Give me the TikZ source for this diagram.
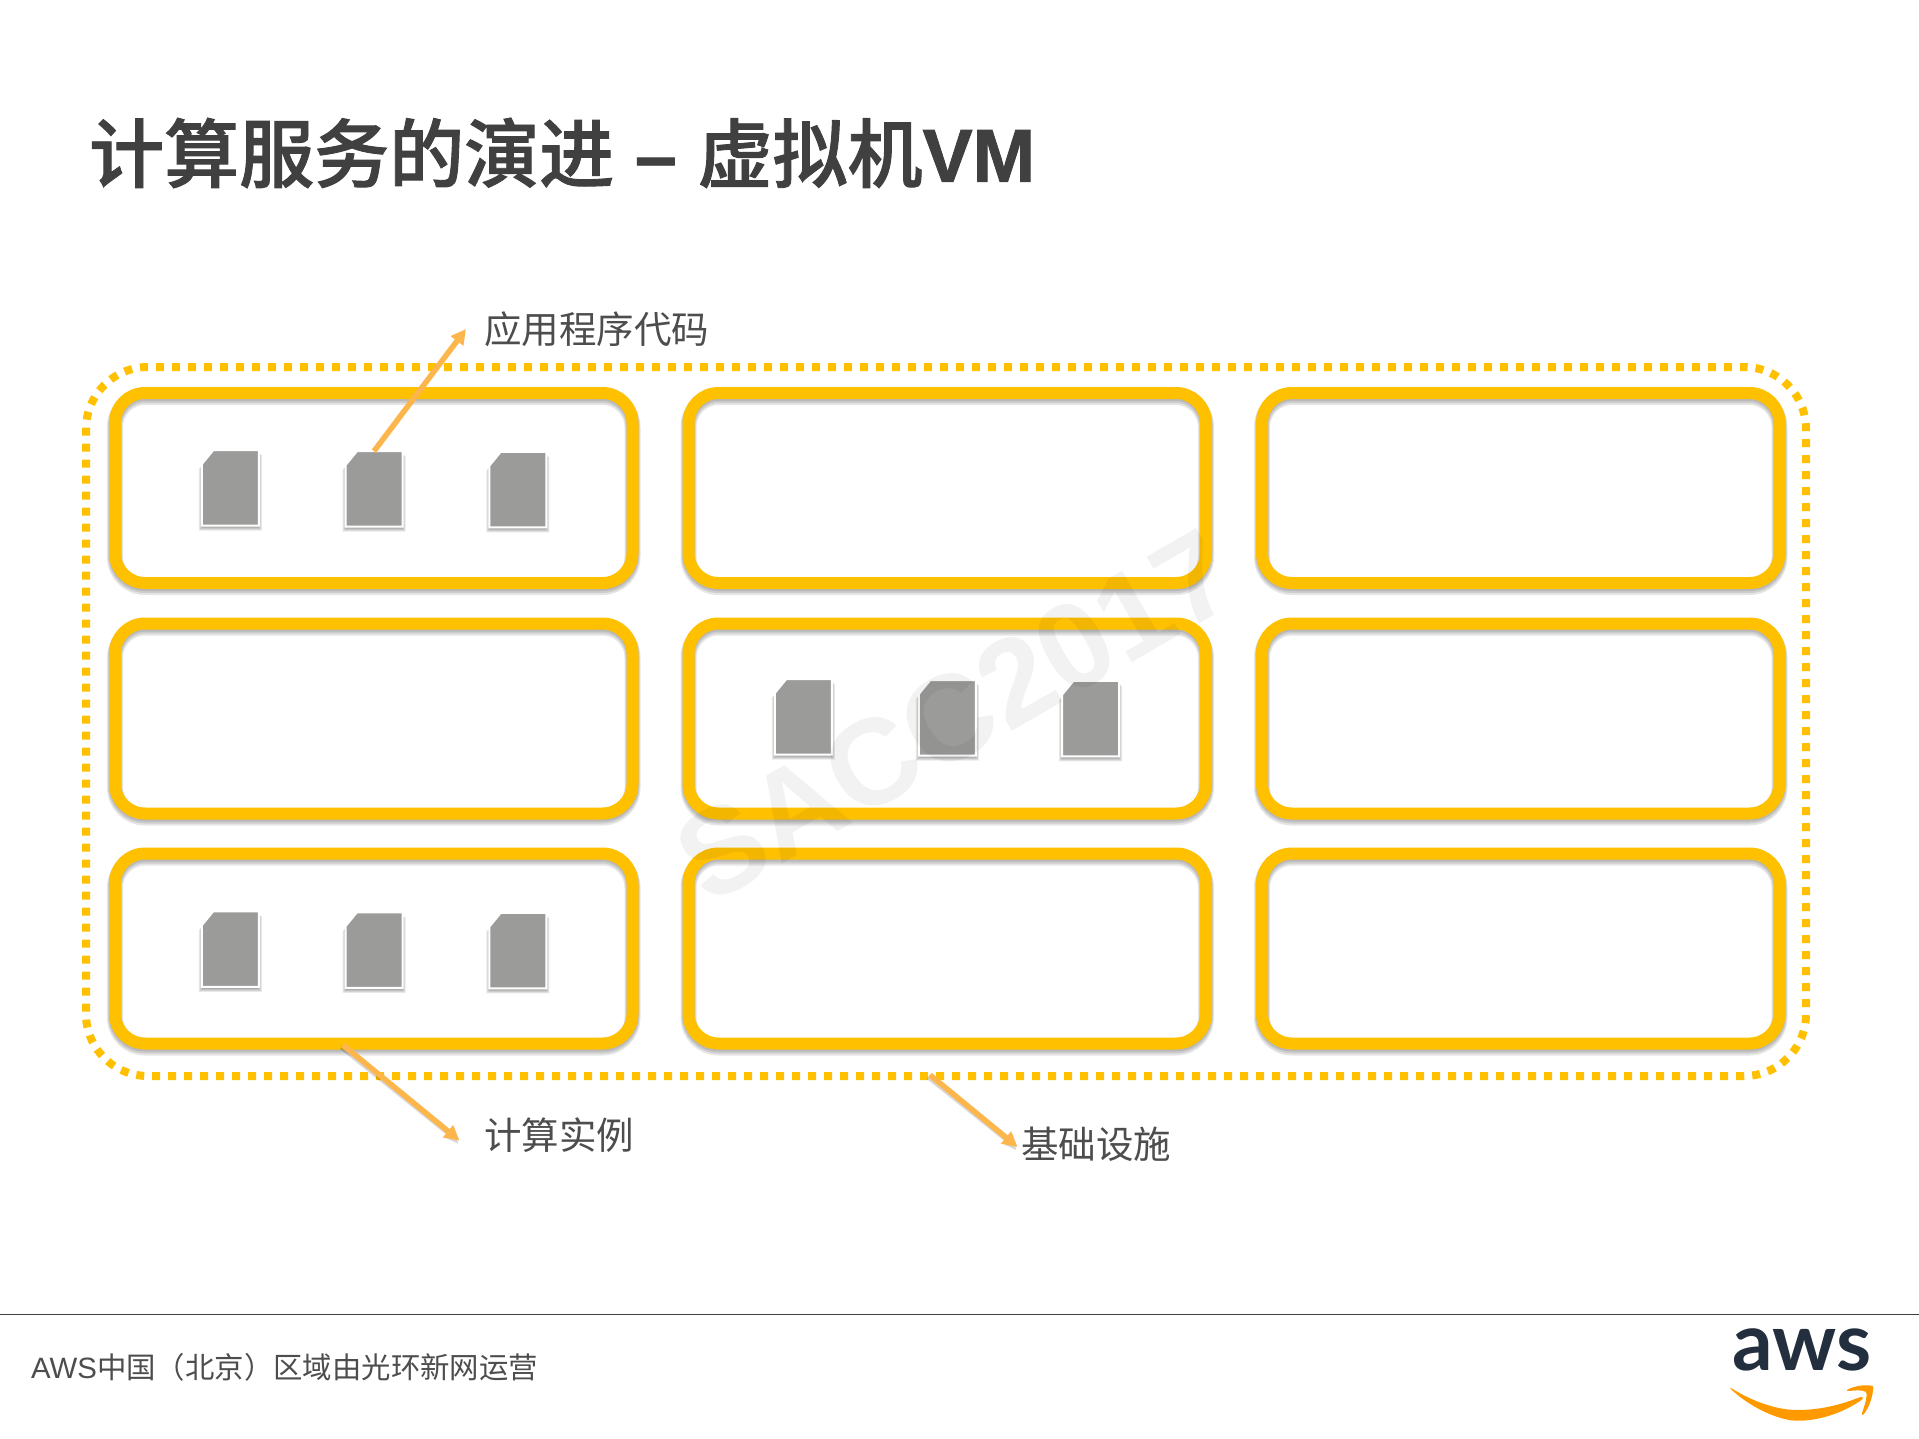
\documentclass[tikz,border=0pt]{standalone}
\usepackage{fontspec}
\setmainfont{Liberation Sans}
\newfontfamily\cjk{Noto Sans CJK SC}
\newfontfamily\cjkm[FakeBold=1.2]{Noto Sans CJK SC Medium}
\newfontfamily\titlelat[FakeBold=1.2]{Liberation Sans Bold}
\newfontfamily\logofont{Lato}
\usetikzlibrary{arrows.meta,calc}
\definecolor{amber}{HTML}{FFC000}
\definecolor{callout}{HTML}{FDB64C}
\definecolor{docgray}{HTML}{9B9B99}
\definecolor{inkgray}{HTML}{404040}
\definecolor{labelgray}{HTML}{4D4D4D}
\definecolor{awsnavy}{HTML}{232F3E}
\definecolor{awsorange}{HTML}{FF9900}
\tikzset{
  ibox/.style={rectangle,rounded corners=30pt,minimum width=517.5pt,minimum height=190pt,inner sep=0pt,outer sep=0pt,draw=amber,line width=12pt},
  iboxshadow/.style={rectangle,rounded corners=30pt,minimum width=517.5pt,minimum height=190pt,inner sep=0pt,outer sep=0pt,draw=black,draw opacity=.1},
  docbox/.style={rectangle,minimum width=57pt,minimum height=75.5pt,inner sep=0pt,outer sep=0pt},
  calloutline/.style={draw=callout,line width=5.5pt,-{Triangle[length=15pt,width=15pt]}},
  calloutshadow/.style={draw=black,draw opacity=.16,line width=5pt},
  calloutlabel/.style={text=labelgray,inner sep=0pt,outer sep=0pt,anchor=west,font=\fontsize{37.5}{40}\selectfont\cjk},
}
\newcommand{\instancebox}[3]{%
  \foreach \w/\dy in {12/2,14/3,16/4}{\node[iboxshadow,line width=\w pt] at (#2,#3+\dy) {};}
  \node[ibox] (#1) at (#2,#3) {};}
\newcommand{\codefile}[3]{%
  \node[docbox] (#1) at (#2,#3) {};
  \foreach \s in {2,3,4,5}{
    \fill[black,opacity=.09] ($(#1.north west)+(11.5,\s)$) -- ($(#1.north east)+(\s-2,\s)$) -- ($(#1.south east)+(\s-2,\s)$) -- ($(#1.south west)+(2-\s,\s)$) -- ($(#1.north west)+(2-\s,14+\s)$) -- cycle;}
  \draw[white,line width=2pt,fill=docgray,line join=miter]
    ($(#1.north west)+(11.5,0)$) -- (#1.north east) -- (#1.south east) -- (#1.south west) -- ($(#1.north west)+(0,14)$) -- cycle;}
\begin{document}
\begin{tikzpicture}[x=1pt,y=-1pt]
\useasboundingbox (0,0) rectangle (1919,1439);
\fill[white] (0,0) rectangle (1919,1439);
% title
\node[anchor=west,inner sep=0pt,text=inkgray,font=\fontsize{75}{80}\selectfont] (title) at (89,153)
  {{\cjkm 计算服务的演进} {\titlelat –} {\cjkm 虚拟机}{\titlelat VM}};
% infrastructure
\node[rectangle,rounded corners=62pt,minimum width=1720pt,minimum height=709pt,inner sep=0pt,outer sep=0pt,draw=amber,line width=8pt,dash pattern=on 8pt off 8pt,dash phase=4pt] (infra) at (946,721.5) {};
% instances
\instancebox{b11}{373.75}{488}
\instancebox{b12}{947.25}{488}
\instancebox{b13}{1520.75}{488}
\instancebox{b21}{373.75}{718.5}
\instancebox{b22}{947.25}{718.5}
\instancebox{b23}{1520.75}{718.5}
\instancebox{b31}{373.75}{948.5}
\instancebox{b32}{947.25}{948.5}
\instancebox{b33}{1520.75}{948.5}
% code files
\codefile{d1}{230.3}{487.9}
\codefile{d2}{374}{488.9}
\codefile{d3}{517.8}{489.5}
\codefile{d4}{803.3}{716.8}
\codefile{d5}{947.3}{717.8}
\codefile{d6}{1090.5}{718.5}
\codefile{d7}{230.3}{949}
\codefile{d8}{374}{950}
\codefile{d9}{517.8}{950.5}
% labels
\node[calloutlabel] (lcode) at (484,329) {应用程序代码};
\node[calloutlabel] (linst) at (484,1135) {计算实例};
\node[calloutlabel] (linfra) at (1021,1144) {基础设施};
% connectors
\coordinate (t1) at (466,329);
\coordinate (s2) at (343,1045);
\coordinate (t2) at (459.6,1140.7);
\coordinate (s3) at (930,1075);
\coordinate (t3) at (1017.6,1147);
\draw[calloutshadow] ($(s2)+(-1.5,2)$) -- ($(t2)+(-8,-5)$);
\draw[calloutshadow] ($(s3)+(-1.5,2)$) -- ($(t3)+(-8,-5)$);
\path[fill=black,opacity=.16] ($(t2)+(-1.5,3)$) -- ($(t2)+(-14,-3)$) -- ($(t2)+(-5,-13)$) -- cycle;
\path[fill=black,opacity=.16] ($(t3)+(-1.5,3)$) -- ($(t3)+(-14,-3)$) -- ($(t3)+(-5,-13)$) -- cycle;
\draw[calloutline] (d2.north) -- (t1);
\draw[calloutline] (s2) -- (t2);
\draw[calloutline] (s3) -- (t3);
% footer
\coordinate (rulea) at (0,1314);
\coordinate (ruleb) at (1919,1314);
\draw[inkgray,line width=1pt] (rulea) -- (ruleb);
\node[anchor=west,inner sep=0pt,text=labelgray,font=\fontsize{29.4}{32}\selectfont] (foot) at (31,1367)
  {AWS{\cjk 中国（北京）区域由光环新网运营}};
% logo
\node[inner sep=0pt,text=awsnavy,font=\fontsize{80}{80}\selectfont\logofont\bfseries] (awslogo) at (1802,1350) {aws};
\fill[awsorange] (1730,1388.3) .. controls (1755,1412) and (1785,1421) .. (1797,1420.7)
  .. controls (1820,1421) and (1845,1412) .. (1862,1399.5)
  .. controls (1864,1397) and (1862,1396.5) .. (1859,1397.5)
  .. controls (1835,1407) and (1815,1410) .. (1797,1410)
  .. controls (1775,1410) and (1750,1400) .. (1731.5,1388.3) -- cycle;
\fill[awsorange] (1847,1390) .. controls (1855,1385) and (1868,1384.5) .. (1873,1386)
  .. controls (1874,1395) and (1868,1410) .. (1863,1415)
  .. controls (1862,1415) and (1862,1414) .. (1862,1413)
  .. controls (1864,1407) and (1868,1396) .. (1866,1392)
  .. controls (1862,1389) and (1853,1391) .. (1847,1391) -- cycle;
% watermark
\node[rotate=30,text=black,text opacity=.05,inner sep=0pt,font=\fontsize{122}{122}\selectfont\bfseries] (wm) at (955,716) {SACC2017};
\end{tikzpicture}
\end{document}
